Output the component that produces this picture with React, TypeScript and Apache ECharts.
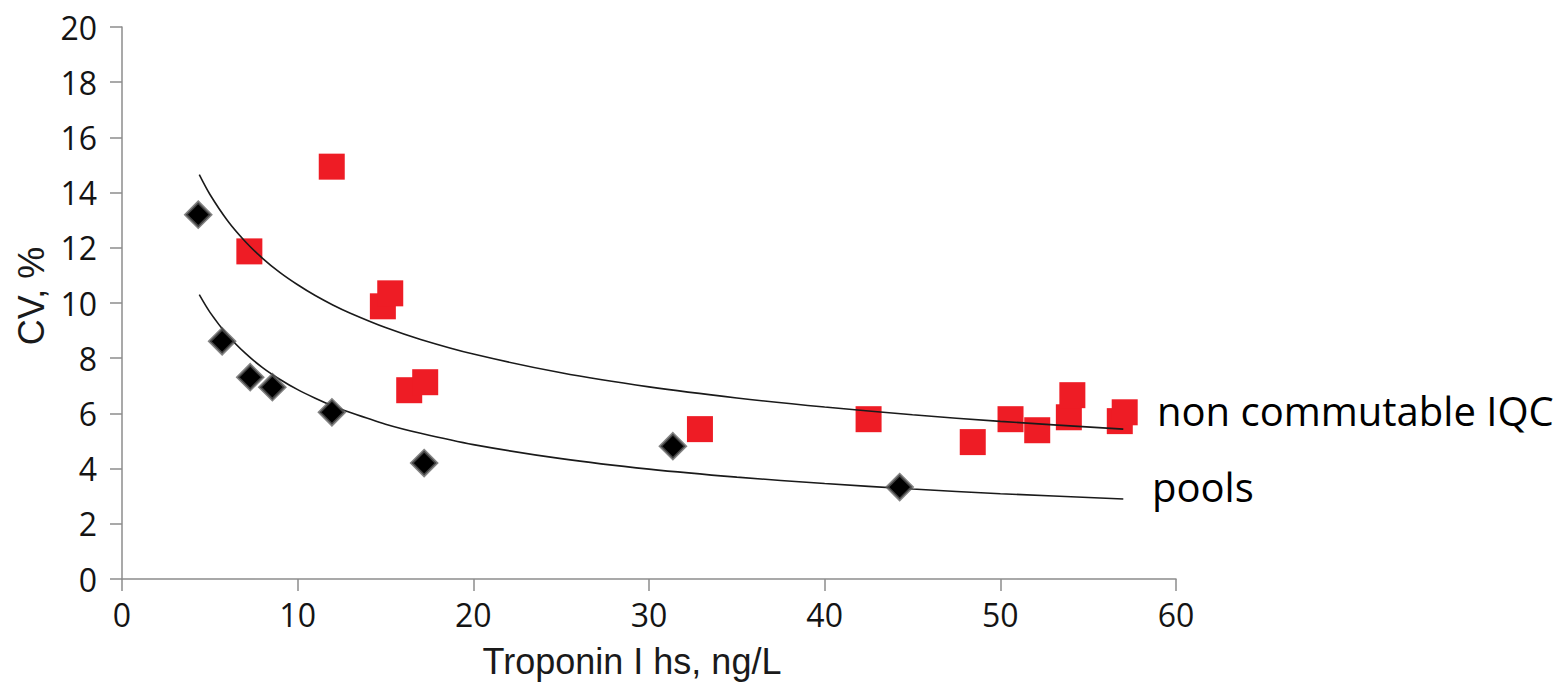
import React, { useEffect, useRef } from "react";
import * as echarts from "echarts";

// Pools (black diamonds): [Troponin I hs ng/L, CV %]
const poolsX = [4.34, 5.7, 7.3, 8.56, 11.95, 17.2, 31.36, 44.27];
const poolsY = [13.2, 8.61, 7.31, 6.95, 6.04, 4.2, 4.81, 3.33];

// Non commutable IQC (red squares)
const iqcX = [11.94, 7.25, 14.85, 15.27, 16.35, 17.26, 32.9, 42.5, 48.43, 50.58, 52.1, 53.9, 54.1, 56.8, 57.08];
const iqcY = [14.94, 11.87, 9.88, 10.35, 6.84, 7.13, 5.43, 5.79, 4.96, 5.79, 5.39, 5.86, 6.66, 5.72, 6.04];

// Trend curves
const trendX = [4.4, 5, 6, 7, 8, 9, 10, 11, 12, 13, 15, 17, 20, 25, 30, 35, 40, 45, 50, 57];
const iqcTrendY = [14.65, 13.94, 12.99, 12.24, 11.62, 11.1, 10.66, 10.27, 9.93, 9.63, 9.11, 8.68, 8.15, 7.47, 6.96, 6.56, 6.23, 5.95, 5.71, 5.43];
const poolsTrendY = [10.3, 9.67, 8.84, 8.19, 7.66, 7.23, 6.86, 6.55, 6.27, 6.03, 5.61, 5.28, 4.87, 4.36, 3.98, 3.69, 3.46, 3.26, 3.09, 2.9];

const xTitle = "Troponin I hs, ng/L";
const yTitle = "CV, %";
const labelIQC = "non commutable IQC";
const labelPools = "pools";

const zip = (xs: number[], ys: number[]) => xs.map((x, i) => [x, ys[i]]);

export default function App() {
  const ref = useRef<HTMLDivElement>(null);
  useEffect(() => {
    if (!ref.current) return;
    const chart = echarts.init(ref.current, undefined, { renderer: "svg" });
    const axisColor = "#8c8c8c";
    const tickFont = { fontFamily: "Open Sans", fontSize: 32, color: "#141414" };
    chart.setOption({
      animation: false,
      backgroundColor: "#ffffff",
      grid: { left: 122, top: 27, right: 389, bottom: 104, containLabel: false },
      xAxis: {
        type: "value",
        min: 0,
        max: 60,
        interval: 10,
        name: xTitle,
        nameLocation: "middle",
        nameGap: 64,
        nameTextStyle: { fontFamily: "Liberation Sans", fontSize: 36, color: "#1a1a1a", padding: [0, 34, 0, 0] },
        axisLine: { show: true, lineStyle: { color: axisColor, width: 1.5 } },
        axisTick: { show: true, length: 12, lineStyle: { color: axisColor, width: 1.5 } },
        axisLabel: { ...tickFont, margin: 19 },
        splitLine: { show: false },
      },
      yAxis: {
        type: "value",
        min: 0,
        max: 20,
        interval: 2,
        name: yTitle,
        nameLocation: "middle",
        nameGap: 70,
        nameRotate: 90,
        nameTextStyle: { fontFamily: "Liberation Sans", fontSize: 36, color: "#1a1a1a", padding: [0, 0, 0, 14] },
        axisLine: { show: true, lineStyle: { color: axisColor, width: 1.5 } },
        axisTick: { show: true, length: 12, lineStyle: { color: axisColor, width: 1.5 } },
        axisLabel: { ...tickFont, margin: 25 },
        splitLine: { show: false },
      },
      series: [
        {
          name: labelIQC,
          type: "scatter",
          symbol: "rect",
          symbolSize: 26,
          z: 2,
          itemStyle: { color: "#ee1c25", opacity: 1 },
          data: zip(iqcX, iqcY),
        },
        {
          name: labelIQC + " trend",
          type: "line",
          smooth: 0.3,
          showSymbol: false,
          symbol: "none",
          z: 3,
          lineStyle: { color: "#1a1a1a", width: 1.6 },
          data: zip(trendX, iqcTrendY),
        },
        {
          name: labelPools + " trend",
          type: "line",
          smooth: 0.3,
          showSymbol: false,
          symbol: "none",
          z: 3,
          lineStyle: { color: "#1a1a1a", width: 1.6 },
          data: zip(trendX, poolsTrendY),
        },
        {
          name: labelPools,
          type: "scatter",
          symbol: "diamond",
          symbolSize: 25,
          z: 4,
          itemStyle: { color: "#000000", borderColor: "rgba(90,90,90,0.75)", borderWidth: 3, opacity: 1 },
          data: zip(poolsX, poolsY),
        },
      ],
      graphic: [
        {
          type: "text",
          left: 1157,
          top: 390,
          style: { text: labelIQC, font: "40px 'Open Sans'", fill: "#000000" },
        },
        {
          type: "text",
          left: 1152,
          top: 466,
          style: { text: labelPools, font: "40px 'Open Sans'", fill: "#000000" },
        },
      ],
    });
    return () => chart.dispose();
  }, []);
  return (
    <div
      ref={ref}
      style={{ position: "absolute", left: 0, top: 0, width: 1565, height: 684 }}
    />
  );
}
